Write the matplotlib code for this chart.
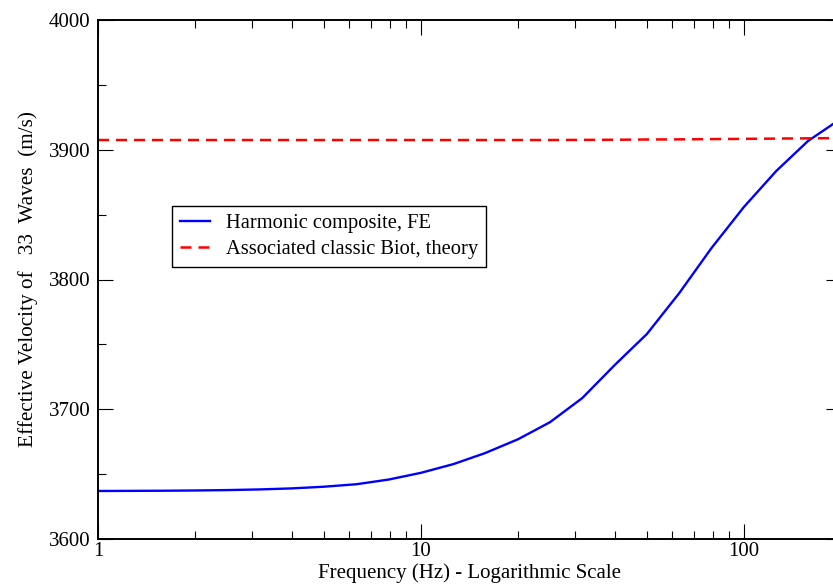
import matplotlib
matplotlib.use("Agg")
import matplotlib.pyplot as plt
from matplotlib.ticker import MultipleLocator, NullFormatter, LogLocator

# frequencies (Hz) of the computed points
freq = [1.0, 1.26, 1.58, 2.0, 2.51, 3.16, 3.98, 5.01, 6.31, 7.94,
        10.0, 12.6, 15.8, 20.0, 25.1, 31.6, 39.8, 50.1, 63.1, 79.4,
        100.0, 126.0, 158.0, 200.0]

# harmonic composite, finite element result (m/s)
fe_velocity = [3637.0, 3637.1, 3637.2, 3637.4, 3637.7, 3638.2, 3639.0, 3640.3, 3642.2, 3645.8,
               3651.0, 3657.7, 3666.2, 3676.9, 3690.0, 3708.6, 3734.0, 3758.0, 3789.5, 3824.2,
               3855.8, 3883.6, 3906.7, 3924.0]

# associated classic Biot theory (m/s)
biot_velocity = [3907.5, 3907.5, 3907.5, 3907.5, 3907.5, 3907.5, 3907.5, 3907.5, 3907.5, 3907.5,
                 3907.5, 3907.5, 3907.5, 3907.5, 3907.5, 3907.6, 3907.7, 3907.9, 3908.0, 3908.2,
                 3908.4, 3908.6, 3908.8, 3909.0]

xticks = [1, 10, 100]
xticklabels = ["1", "10", "100"]
yticks = [3600, 3700, 3800, 3900, 4000]

plt.rcParams['font.family'] = ['Liberation Serif', 'DejaVu Serif']

fig = plt.figure(figsize=(8.33, 5.88), dpi=100)
# right spine sits just past the edge of the picture (it is cropped there)
ax = fig.add_axes([98/833, 1 - 539/588, 743/833, 519/588])

ax.plot(freq, fe_velocity, color='#0000ff', lw=1.7, label="Harmonic composite, FE")
ax.plot(freq, biot_velocity, color='#ff0000', lw=1.8, linestyle=(0, (4.4, 2.8)),
        label="Associated classic Biot, theory")

ax.set_xscale('log')
ax.set_xlim(1, 200)
ax.set_ylim(3600, 4000)

ax.set_xticks(xticks)
ax.set_xticklabels(xticklabels)
ax.xaxis.set_minor_locator(LogLocator(base=10, subs=range(2, 10)))
ax.xaxis.set_minor_formatter(NullFormatter())
ax.set_yticks(yticks)
ax.yaxis.set_minor_locator(MultipleLocator(50))

ax.tick_params(which='both', direction='in', top=True, right=True, width=0.8, labelsize=15)
ax.tick_params(which='major', length=10.8)
ax.tick_params(which='minor', length=5.5)
ax.tick_params(axis='y', pad=5.3)
ax.tick_params(axis='x', pad=2.5)

for s in ax.spines.values():
    s.set_linewidth(1.4)

ax.set_xlabel("Frequency (Hz) - Logarithmic Scale", fontsize=15, labelpad=1)
ax.set_ylabel("Effective Velocity of   33  Waves  (m/s)", fontsize=15.3, labelpad=8)

leg = ax.legend(loc='upper left', bbox_to_anchor=((172 - 98) / 743, 1 - (206 - 20) / 519),
                fontsize=14.8, frameon=True, fancybox=False, framealpha=1,
                handlelength=1.46, handletextpad=0.78, borderpad=0.38, labelspacing=0.3,
                borderaxespad=0)
leg.get_frame().set_edgecolor('black')
leg.get_frame().set_linewidth(1.0)

fig.savefig("out.png", dpi=100)
